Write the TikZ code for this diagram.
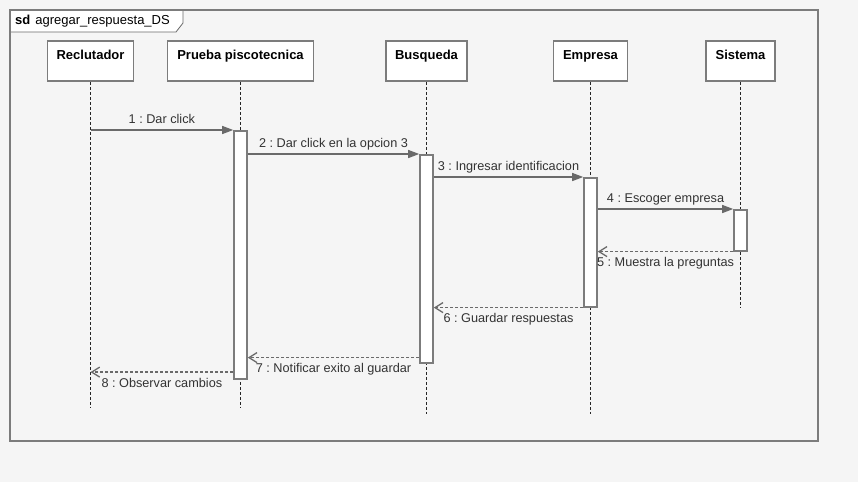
\documentclass[tikz,border=0pt]{standalone}
\usepackage{fontspec}
\setmainfont{Liberation Sans}
\usetikzlibrary{arrows.meta}
\definecolor{fondo}{HTML}{F5F5F5}
\definecolor{borde}{HTML}{7C7C7C}
\definecolor{linea}{HTML}{6A6A6A}
\definecolor{texto}{HTML}{333333}
\frenchspacing

\begin{document}
\begin{tikzpicture}[x=1pt, y=-1pt,
    cabeza/.style={draw=borde, line width=1.6pt, fill=white, minimum height=40pt, inner sep=0pt,
        text height=18pt, text depth=22pt, font=\fontsize{13}{15}\selectfont\bfseries},
    activa/.style={draw=borde, line width=1.6pt, fill=white, minimum width=13pt, inner sep=0pt, anchor=north},
    vida/.style={draw=black!85, line width=0.7pt, dash pattern=on 3pt off 2pt},
    llamada/.style={draw=linea, line width=1.3pt, -{Triangle[length=11pt,width=8pt]}},
    retorno/.style={draw=linea, line width=1.3pt, dash pattern=on 3pt off 2pt, -{Straight Barb[length=8pt,width=10pt]}},
    etq/.style={font=\fontsize{12.7}{15}\selectfont, text=texto, inner sep=1pt, text height=9pt, text depth=2.5pt}]

    \fill[fondo] (0,0) rectangle (858,482);
    \useasboundingbox (0,0) rectangle (858,482);

    % marco sd
    \draw[fill=white, draw=linea, line width=0.8pt] (10,10) -- (183,10) -- (183,23) -- (176,32) -- (10,32) -- cycle;
    \node[anchor=west, inner sep=0pt, font=\fontsize{13}{15}\selectfont] (titulo) at (15,21) {\textbf{sd}\hspace{5pt}agregar\_respuesta\_DS};
    \draw[draw=borde, line width=1.6pt] (10,10) rectangle (818,441);

    % objetos
    \node[cabeza, minimum width=86pt] (rec) at (90.5,61) {Reclutador};
    \node[cabeza, minimum width=146pt] (pru) at (240.5,61) {Prueba piscotecnica};
    \node[cabeza, minimum width=81pt] (bus) at (426.5,61) {Busqueda};
    \node[cabeza, minimum width=74pt] (emp) at (590.5,61) {Empresa};
    \node[cabeza, minimum width=69pt] (sis) at (740.5,61) {Sistema};

    % lineas de vida
    \draw[vida] (rec.south) -- (rec.south |- 0,407);
    \draw[vida] (pru.south) -- (pru.south |- 0,407);
    \draw[vida] (bus.south) -- (bus.south |- 0,414);
    \draw[vida] (emp.south) -- (emp.south |- 0,414);
    \draw[vida] (sis.south) -- (sis.south |- 0,307);

    % activaciones
    \node[activa, minimum height=248pt] (actP) at (pru.south |- 0,130) {};
    \node[activa, minimum height=208pt] (actB) at (bus.south |- 0,154) {};
    \node[activa, minimum height=129pt] (actE) at (emp.south |- 0,177) {};
    \node[activa, minimum height=41pt] (actS) at (sis.south |- 0,209) {};

    % mensajes
    \draw[llamada] (rec.south |- actP.north) -- node[etq, above=2pt] {1 : Dar click} (actP.north west);
    \draw[llamada] (actP.east |- actB.north) -- node[etq, above=2pt] {2 : Dar click en la opcion 3} (actB.north west);
    \draw[llamada] (actB.east |- actE.north) -- node[etq, above=2pt] {3 : Ingresar identificacion} (actE.north west);
    \draw[llamada] (actE.east |- actS.north) -- node[etq, above=2pt] {4 : Escoger empresa} (actS.north west);
    \draw[retorno] (actS.south west) -- node[etq, below=4.5pt] {5 : Muestra la preguntas} (actE.east |- actS.south);
    \draw[retorno] (actE.south west) -- node[etq, below=4.5pt] {6 : Guardar respuestas} (actB.east |- actE.south);
    \draw[retorno] ([yshift=6pt]actB.south west) -- node[etq, below=4.5pt] {7 : Notificar exito al guardar} ([yshift=6pt]actP.east |- actB.south);
    \draw[retorno] ([yshift=7.5pt]actP.south west) -- node[etq, below=4.5pt] {8 : Observar cambios} ([yshift=7.5pt]rec.south |- actP.south);
\end{tikzpicture}
\end{document}
